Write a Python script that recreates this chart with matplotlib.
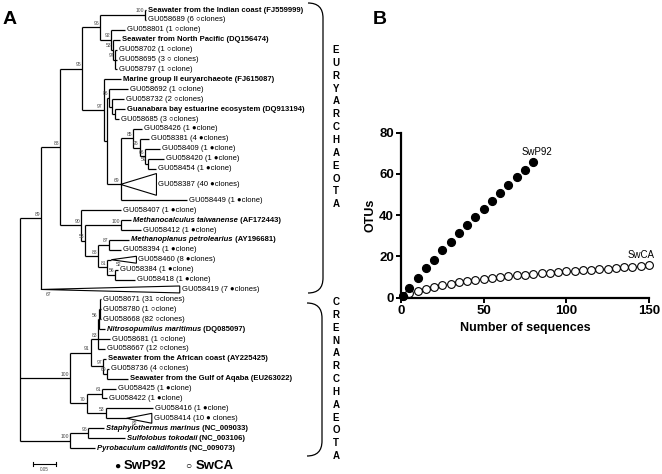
import re

import matplotlib

matplotlib.use("Agg")
import matplotlib.pyplot as plt
import numpy as np
from matplotlib.patches import PathPatch, Polygon
from matplotlib.path import Path
from matplotlib.transforms import Affine2D

plt.rcParams["font.family"] = ["Liberation Sans", "DejaVu Sans"]

# ---------------- panel A: neighbour-joining tree ----------------
# branch lengths in substitutions per site, internal labels = bootstrap
NEWICK = (
    "((((((FJ559999:0.001,GU058689:0.001)100:0.097,"
    "(GU058801:0.030,(DQ156474:0.016,(GU058702:0.004,GU058695:0.004,"
    "GU058797:0.004)97:0.005)53:0.003)92:0.024)96:0.039,"
    "(FJ615087:0.036,((GU058692:0.039,(GU058732:0.026,(DQ913194:0.021,"
    "GU058685:0.009):0.006):0.006)86:0.006,((GU058426:0.019,(GU058381:0.021,"
    "(GU058409:0.032,(GU058420:0.036,GU058454:0.017)59:0.006)66:0.011)95:0.015)"
    "85:0.026,GU058387:0.0,GU058449:0.142)69:0.030):0.006)97:0.047)95:0.047,"
    "(GU058407:0.086,((AF172443:0.021,GU058412:0.043)100:0.077,"
    "((AY196681:0.043,GU058394:0.024)87:0.024,(GU058460:0.009,"
    "(GU058384:0.006,GU058418:0.043)56:0.017)81:0.019)88:0.028)53:0.009)90:0.045)"
    "88:0.041,GU058419:0.0)89:0.045,"
    "(((((GU058671:0.002,GU058780:0.002,GU058668:0.002):0.002,DQ085097:0.013)"
    "56:0.002,GU058681:0.026,GU058667:0.015)83:0.015,(AY225425:0.006,"
    "(GU058736:0.004,EU263022:0.045)69:0.009)97:0.026)91:0.045,"
    "((GU058425:0.030,GU058422:0.009)61:0.034,(GU058416:0.101,GU058414:0.045)"
    "53:0.041)70:0.036)100:0.107,((NC_009033:0.034,NC_003106:0.079)96:0.039,"
    "NC_009073:0.054)100:0.107):0.017);"
)

# collapsed clades: depth (subst/site), height in rows, bootstrap
COLLAPSED = {
    "GU058387": (0.077, 2.2, None),
    "GU058460": (0.054, 0.7, "52"),
    "GU058419": (0.298, 0.7, "67"),
    "GU058414": (0.054, 1.0, "82"),
}

CLONES = {
    "GU058689": "(6 \u25cbclones)", "GU058801": "(1 \u25cbclone)",
    "GU058702": "(1 \u25cbclone)", "GU058695": "(3 \u25cb clones)",
    "GU058797": "(1 \u25cbclone)", "GU058692": "(1 \u25cbclone)",
    "GU058732": "(2 \u25cbclones)", "GU058685": "(3 \u25cbclones)",
    "GU058426": "(1 \u25cfclone)", "GU058381": "(4 \u25cfclones)",
    "GU058409": "(1 \u25cfclone)", "GU058420": "(1 \u25cfclone)",
    "GU058454": "(1 \u25cfclone)", "GU058387": "(40 \u25cfclones)",
    "GU058449": "(1 \u25cfclone)", "GU058407": "(1 \u25cfclone)",
    "GU058412": "(1 \u25cfclone)", "GU058394": "(1 \u25cfclone)",
    "GU058460": "(8 \u25cfclones)", "GU058384": "(1 \u25cfclone)",
    "GU058418": "(1 \u25cfclone)", "GU058419": "(7 \u25cfclones)",
    "GU058671": "(31 \u25cbclones)", "GU058780": "(1 \u25cbclone)",
    "GU058668": "(82 \u25cbclones)", "GU058681": "(1 \u25cbclone)",
    "GU058667": "(12 \u25cbclones)", "GU058736": "(4 \u25cbclones)",
    "GU058425": "(1 \u25cfclone)", "GU058422": "(1 \u25cfclone)",
    "GU058416": "(1 \u25cfclone)", "GU058414": "(10 \u25cf clones)",
}

# reference sequences: description, italic (species name)
REFERENCES = {
    "FJ559999": ("Seawater from the Indian coast", False),
    "DQ156474": ("Seawater from North Pacific", False),
    "FJ615087": ("Marine group II euryarchaeote", False),
    "DQ913194": ("Guanabara bay estuarine ecosystem", False),
    "AF172443": ("Methanocalculus taiwanense", True),
    "AY196681": ("Methanoplanus petrolearius", True),
    "DQ085097": ("Nitrosopumilus maritimus", True),
    "AY225425": ("Seawater from the African coast", False),
    "EU263022": ("Seawater from the Gulf of Aqaba", False),
    "NC_009033": ("Staphylothermus marinus", True),
    "NC_003106": ("Sulfolobus tokodaii", True),
    "NC_009073": ("Pyrobaculum calidifontis", True),
}

PHYLA = ["EURYARCHAEOTA", "CRENARCHAEOTA"]
SCALE_BAR = 0.05

# ---------------- panel B: rarefaction curves ----------------
SWP92_X = [1, 5, 10, 15, 20, 25, 30, 35, 40, 45, 50, 55, 60, 65, 70, 75, 80]
SWP92_OTU = [1, 4.9, 9.7, 14.3, 18.4, 23.0, 27.2, 31.2, 35.1, 39.1, 43.2,
             47.0, 50.8, 54.5, 58.4, 62.1, 65.8]
SWCA_X = [1] + list(range(5, 151, 5))
SWCA_OTU = [1, 2.1, 3.4, 4.4, 5.3, 6.0, 6.8, 7.4, 8.1, 8.6, 8.9, 9.6, 10.0,
            10.4, 10.9, 11.2, 11.5, 11.8, 12.1, 12.5, 12.8, 13.1, 13.3, 13.6,
            13.9, 14.1, 14.4, 14.7, 14.9, 15.4, 15.7]


def parse_newick(s):
    pos = 0

    def node():
        nonlocal pos
        children = []
        if s[pos] == "(":
            pos += 1
            children.append(node())
            while s[pos] == ",":
                pos += 1
                children.append(node())
            pos += 1
        m = re.match(r"([^:,();]*)(?::([0-9.]+))?", s[pos:])
        pos += m.end()
        return {"name": m.group(1), "length": float(m.group(2) or 0),
                "children": children}

    return node()


def leaves(n):
    if not n["children"]:
        return [n]
    return [l for c in n["children"] for l in leaves(c)]


def layout(n, x0, rows):
    n["x"] = x0 + n["length"]
    if n["children"]:
        for c in n["children"]:
            layout(c, n["x"], rows)
        n["y"] = float(np.median([c["y"] for c in n["children"]]))
    else:
        n["y"] = rows[n["name"]]


W, H = 662, 474
PX_PER_UNIT = 466.0
ROW_PX = 9.91
FS = 5.5
GAP = 2.0 / PX_PER_UNIT

fig = plt.figure(figsize=(W / 100, H / 100), dpi=100)
pix = Affine2D().scale(1 / W, -1 / H).translate(0, 1) + fig.transFigure

ax = fig.add_axes([0, 0, 1, 1])
ax.set_axis_off()
ax.set_xlim(-12 / PX_PER_UNIT, (W - 12) / PX_PER_UNIT)
ax.set_ylim((H - 10) / ROW_PX, -10 / ROW_PX)

tree = parse_newick(NEWICK)
rows, r, prev = {}, 0.0, None
for leaf in leaves(tree):
    span = max(1.0, COLLAPSED.get(leaf["name"], (0, 1, None))[1])
    if prev is not None:
        r += (prev + span) / 2
    rows[leaf["name"]] = r
    prev = span
layout(tree, 0.0, rows)

LINE = dict(color="black", lw=0.9, solid_capstyle="butt")


def draw(n, parent_x=None):
    if parent_x is not None:
        ax.plot([parent_x, n["x"]], [n["y"], n["y"]], **LINE)
    if n["children"]:
        ys = [c["y"] for c in n["children"]]
        ax.plot([n["x"], n["x"]], [min(ys), max(ys)], **LINE)
        if n["name"]:
            ax.text(n["x"] - 0.002, n["y"] - 0.15, n["name"], fontsize=3.6,
                    color="#444444", ha="right", va="bottom")
        for c in n["children"]:
            draw(c, n["x"])
        return
    tip = n["x"]
    if n["name"] in COLLAPSED:
        depth, height, boot = COLLAPSED[n["name"]]
        y = n["y"]
        ax.add_patch(Polygon([(tip, y), (tip + depth, y - height / 2),
                              (tip + depth, y + height / 2)], closed=True,
                             fc="white", ec="black", lw=0.8))
        if boot:
            ax.text(tip + 0.01, y + 0.25, boot, fontsize=3.6, color="#444444",
                    ha="left", va="top")
        tip += depth
    name = n["name"]
    if name in REFERENCES:
        desc, italic = REFERENCES[name]
        if italic:
            t = ax.text(tip + GAP, n["y"], desc, fontsize=FS, fontweight="bold",
                        style="italic", ha="left", va="center")
            ax.annotate(f" ({name})", xy=(1, 0), xycoords=t, fontsize=FS,
                        fontweight="bold", ha="left", va="bottom")
        else:
            ax.text(tip + GAP, n["y"], f"{desc} ({name})", fontsize=FS,
                    fontweight="bold", ha="left", va="center")
    else:
        ax.text(tip + GAP, n["y"], f"{name} {CLONES[name]}", fontsize=FS,
                ha="left", va="center")


draw(tree)

# scale bar
sb_y = (464 - 10) / ROW_PX
sb_x0 = 21 / PX_PER_UNIT
ax.plot([sb_x0, sb_x0 + SCALE_BAR], [sb_y, sb_y], color="black", lw=0.8)
for xx in (sb_x0, sb_x0 + SCALE_BAR):
    ax.plot([xx, xx], [sb_y - 0.2, sb_y + 0.2], color="black", lw=0.8)
ax.text(sb_x0 + SCALE_BAR / 2, sb_y + 0.35, f"{SCALE_BAR:.2f}", fontsize=3.3,
        ha="center", va="top", color="#444444")

# phylum brackets and vertical names
for (top, bot, xr), word in zip([(3, 293, 323), (303, 456, 322)], PHYLA):
    xl = xr - 15
    verts = [(xl, top), (xr, top), (xr, top + 15), (xr, bot - 15),
             (xr, bot), (xl, bot)]
    codes = [Path.MOVETO, Path.CURVE3, Path.CURVE3, Path.LINETO,
             Path.CURVE3, Path.CURVE3]
    fig.add_artist(PathPatch(Path(verts, codes), fc="none", ec="black",
                             lw=0.9, transform=pix))
    y0 = top + 47 if word.startswith("E") else top - 1
    for i, ch in enumerate(word):
        fig.text(336, y0 + i * 12.85, ch, transform=pix, fontsize=7,
                 fontweight="bold", ha="center", va="center")

# library legend
fig.text(117, 466, "\u25cf", transform=pix, fontsize=7.5, ha="center", va="center")
fig.text(124, 466, "SwP92", transform=pix, fontsize=9.5, fontweight="bold",
         ha="left", va="center")
fig.text(188, 466, "\u25cb", transform=pix, fontsize=7.5, ha="center", va="center")
fig.text(196, 466, "SwCA", transform=pix, fontsize=9.5, fontweight="bold",
         ha="left", va="center")

fig.text(3, 19, "A", transform=pix, fontsize=14, fontweight="bold",
         ha="left", va="center")
fig.text(373, 19, "B", transform=pix, fontsize=14, fontweight="bold",
         ha="left", va="center")

# ---------------- panel B ----------------
axb = fig.add_axes([401 / W, (H - 297.7) / H, 248 / W, 165 / H])
axb.plot(SWCA_X, SWCA_OTU, "o", ms=5.6, mfc="white", mec="black", mew=0.8,
         clip_on=False, zorder=3)
axb.plot(SWP92_X, SWP92_OTU, "o", ms=5.6, color="black", clip_on=False,
         zorder=4)
axb.text(82, 70.5, "SwP92", fontsize=7, ha="center", va="center")
axb.text(145, 20.7, "SwCA", fontsize=7, ha="center", va="center")
axb.set_xlim(0, 150)
axb.set_ylim(0, 80)
axb.set_xticks([0, 50, 100, 150])
axb.set_yticks([0, 20, 40, 60, 80])
for side in ("top", "right"):
    axb.spines[side].set_visible(False)
for side in ("left", "bottom"):
    axb.spines[side].set_linewidth(1.6)
axb.tick_params(width=1.4, length=3.5, labelsize=9.5, pad=1.5)
for lab in axb.get_xticklabels() + axb.get_yticklabels():
    lab.set_fontweight("bold")
axb.set_xlabel("Number of sequences", fontsize=9, fontweight="bold", labelpad=4)
axb.set_ylabel("OTUs", fontsize=9, fontweight="bold", labelpad=2)

fig.savefig("out.png", dpi=100)
